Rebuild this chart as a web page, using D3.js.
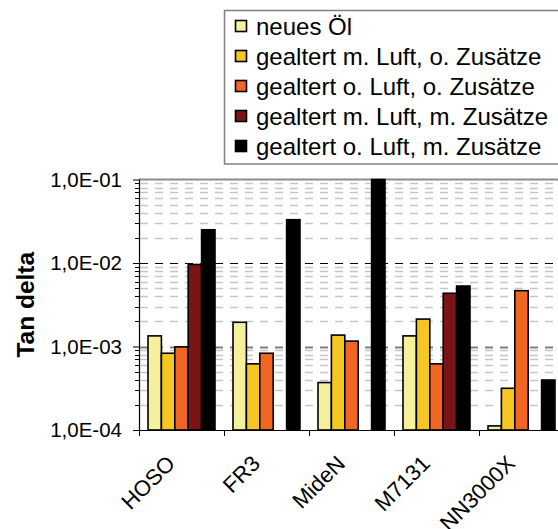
<!DOCTYPE html>
<html>
<head>
<meta charset="utf-8">
<script src="https://cdn.jsdelivr.net/npm/d3@7"></script>
<style>
  body { margin: 0; background: #fff; overflow: hidden; }
  text { font-family: "Liberation Sans", Arial, sans-serif; }
</style>
</head>
<body>
<div id="chart"></div>
<script>
var oils = ["HOSO", "FR3", "MideN", "M7131", "NN3000X"];
var seriesNames = [
    "neues Öl",
    "gealtert m. Luft, o. Zusätze",
    "gealtert o. Luft, o. Zusätze",
    "gealtert m. Luft, m. Zusätze",
    "gealtert o. Luft, m. Zusätze"
];
var seriesColors = ["#f4f09c", "#f6c623", "#f26624", "#7b1416", "#000000"];

// tan delta per oil, null = no measurement
var neuesOel      = [1.34e-3, 1.95e-3, 3.7e-4, 1.34e-3, 1.12e-4];
var mLuftOZus     = [8.3e-4, 6.2e-4, 1.37e-3, 2.13e-3, 3.16e-4];
var oLuftOZus     = [9.9e-4, 8.3e-4, 1.16e-3, 6.2e-4, 4.66e-3];
var mLuftMZus     = [9.6e-3, null, null, 4.34e-3, null];
var oLuftMZus     = [2.5e-2, 3.3e-2, 1.0e-1, 5.3e-3, 3.97e-4];

var yTickValues = [1e-4, 1e-3, 1e-2, 1e-1];
var yTickLabels = ["1,0E-04", "1,0E-03", "1,0E-02", "1,0E-01"];

var allSeries = [neuesOel, mLuftOZus, oLuftOZus, mLuftMZus, oLuftMZus];

var width = 558, height = 529;
var margin = {top: 179.5, left: 139, bottom: 430};
var bandW = 85;

var svg = d3.select("#chart").append("svg")
    .attr("width", width)
    .attr("height", height);

var x0 = d3.scaleBand()
    .domain(oils)
    .range([margin.left, margin.left + bandW * oils.length]);

var x1 = d3.scaleBand()
    .domain(d3.range(seriesNames.length))
    .range([9, bandW - 9]);

var y = d3.scaleLog()
    .domain([1e-4, 1e-1])
    .range([margin.bottom, margin.top]);

var plotRight = margin.left + bandW * oils.length;

// minor grid lines 2..9 of every decade
var minorVals = [];
yTickValues.slice(0, 3).forEach(function(d) {
    for (var k = 2; k <= 9; k++) minorVals.push(d * k);
});

var grid = svg.append("g").attr("class", "grid");

grid.selectAll(".minor")
    .data(minorVals)
    .enter().append("line")
    .attr("class", "minor")
    .attr("x1", margin.left + 1)
    .attr("x2", plotRight)
    .attr("y1", function(d) { return Math.round(y(d)) + 0.5; })
    .attr("y2", function(d) { return Math.round(y(d)) + 0.5; })
    .style("stroke", "#c6c6c6")
    .style("stroke-width", 1.5)
    .style("stroke-dasharray", "8,7");

grid.selectAll(".major")
    .data(yTickValues.slice(1, 3))
    .enter().append("line")
    .attr("class", "major")
    .attr("x1", margin.left + 1)
    .attr("x2", plotRight)
    .attr("y1", function(d) { return Math.round(y(d)) + 0.5; })
    .attr("y2", function(d) { return Math.round(y(d)) + 0.5; })
    .style("stroke", function(d, i) { return i === 0 ? "#808080" : "#000"; })
    .style("stroke-width", function(d, i) { return i === 0 ? 2 : 1.2; })
    .style("stroke-dasharray", "8,7");

// top border of plot area
svg.append("line")
    .attr("x1", margin.left)
    .attr("x2", plotRight)
    .attr("y1", y(1e-1))
    .attr("y2", y(1e-1))
    .style("stroke", "#8c8c8c")
    .style("stroke-width", 2);

// bars
var groups = svg.selectAll(".oil")
    .data(oils)
    .enter().append("g")
    .attr("class", "oil")
    .attr("transform", function(d) { return "translate(" + x0(d) + ",0)"; });

groups.selectAll("rect")
    .data(function(d, i) {
        return allSeries.map(function(s, j) { return {series: j, value: s[i]}; })
            .filter(function(e) { return e.value !== null; });
    })
    .enter().append("rect")
    .attr("x", function(d) { return x1(d.series); })
    .attr("width", x1.bandwidth())
    .attr("y", function(d) { return y(d.value); })
    .attr("height", function(d) { return y(1e-4) - y(d.value); })
    .style("fill", function(d) { return seriesColors[d.series]; })
    .style("stroke", "#000")
    .style("stroke-width", 1.6);

// y axis
var yAxis = d3.axisLeft(y)
    .tickValues(yTickValues)
    .tickSize(6)
    .tickPadding(11)
    .tickFormat(function(d, i) { return yTickLabels[i]; });

var yG = svg.append("g")
    .attr("transform", "translate(" + margin.left + ",0)")
    .call(yAxis);
yG.select(".domain").remove();
yG.selectAll("text")
    .style("font-size", "20.5px")
    .style("font-family", "Liberation Sans, Arial, sans-serif")
    .attr("dy", "0.33em");

yG.selectAll(".minorTick")
    .data(minorVals)
    .enter().append("line")
    .attr("class", "minorTick")
    .attr("x1", -4)
    .attr("x2", 0)
    .attr("y1", function(d) { return Math.round(y(d)) + 0.5; })
    .attr("y2", function(d) { return Math.round(y(d)) + 0.5; })
    .style("stroke", "#000");

svg.append("line")
    .attr("x1", margin.left + 0.5)
    .attr("x2", margin.left + 0.5)
    .attr("y1", margin.top)
    .attr("y2", margin.bottom)
    .style("stroke", "#000")
    .style("stroke-width", 1.2);

// x axis
svg.append("line")
    .attr("x1", margin.left)
    .attr("x2", plotRight)
    .attr("y1", margin.bottom + 0.5)
    .attr("y2", margin.bottom + 0.5)
    .style("stroke", "#000")
    .style("stroke-width", 1.2);

svg.selectAll(".xtick")
    .data(oils)
    .enter().append("line")
    .attr("class", "xtick")
    .attr("x1", function(d) { return x0(d) + 0.5; })
    .attr("x2", function(d) { return x0(d) + 0.5; })
    .attr("y1", margin.bottom)
    .attr("y2", margin.bottom + 6)
    .style("stroke", "#000");

svg.selectAll(".xlabel")
    .data(oils)
    .enter().append("text")
    .attr("class", "xlabel")
    .attr("transform", function(d) {
        return "translate(" + (x0(d) + bandW / 2 - 16) + "," + (margin.bottom + 24) + ") rotate(-45)";
    })
    .attr("text-anchor", "end")
    .attr("dy", "0.7em")
    .style("font-size", "22px")
    .text(function(d) { return d; });

// y label
svg.append("text")
    .attr("transform", "translate(34," + ((margin.top + margin.bottom) / 2) + ") rotate(-90)")
    .attr("text-anchor", "middle")
    .style("font-size", "24.5px")
    .style("font-weight", "bold")
    .text("Tan delta");

// legend
var legend = svg.append("g").attr("class", "legend");

legend.append("rect")
    .attr("x", 224.5)
    .attr("y", 10.5)
    .attr("width", 400)
    .attr("height", 153.5)
    .style("fill", "#fff")
    .style("stroke", "#808080")
    .style("stroke-width", 1.5);

var items = legend.selectAll(".item")
    .data(seriesNames)
    .enter().append("g")
    .attr("class", "item")
    .attr("transform", function(d, i) { return "translate(235," + (26 + i * 30) + ")"; });

items.append("rect")
    .attr("x", 0.5)
    .attr("y", -5.5)
    .attr("width", 11)
    .attr("height", 11)
    .style("fill", function(d, i) { return seriesColors[i]; })
    .style("stroke", "#000")
    .style("stroke-width", 1.6);

items.append("text")
    .attr("x", 21)
    .attr("dy", "0.36em")
    .style("font-size", "24px")
    .text(function(d) { return d; });
</script>
</body>
</html>
